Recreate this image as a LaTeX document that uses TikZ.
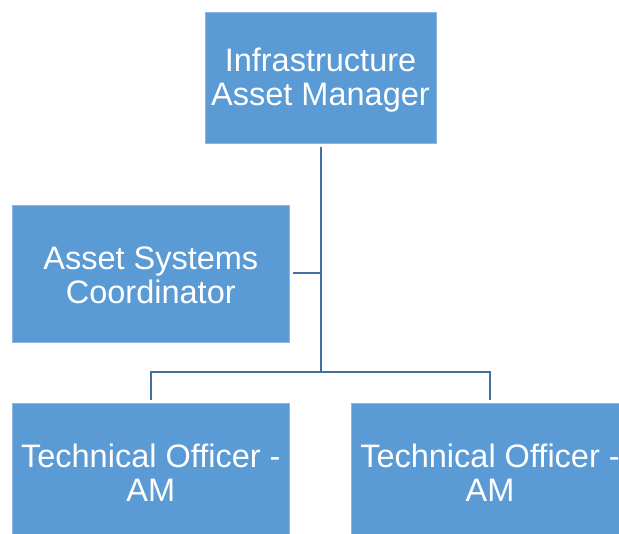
\documentclass[tikz,border=0pt]{standalone}
\usepackage{fontspec}
\setmainfont{Liberation Sans}
\definecolor{boxfill}{HTML}{5B9BD5}
\definecolor{boxline}{HTML}{8DB6E2}
\definecolor{connc}{HTML}{41719C}
\begin{document}
\begin{tikzpicture}[x=1pt,y=-1pt,
  orgbox/.style={rectangle,fill=boxfill,draw=boxline,line width=0.6pt,
    text=white,align=center,inner sep=0pt,text height=61pt,
    font=\fontsize{32.5}{34}\selectfont},
  conn/.style={draw=connc,line width=2pt}]
\clip (0,0) rectangle (619,534);
\fill[white] (0,0) rectangle (619,534);
\node[orgbox,minimum width=231pt,minimum height=131pt,text height=63pt] (top) at (320.5,77.8) {Infrastructure\\Asset Manager};
\node[orgbox,minimum width=277pt,minimum height=137pt] (asc) at (150.8,273.4) {Asset Systems\\Coordinator};
\node[orgbox,minimum width=277pt,minimum height=137pt] (tl) at (150.8,471.5) {Technical Officer -\\AM};
\node[orgbox,minimum width=277pt,minimum height=137pt] (tr) at (490,471.5) {Technical Officer -\\AM};
\coordinate (j1) at (320.5,372.5);
\draw[conn] ([yshift=-3pt]top.south) -- (j1);
\draw[conn] ([xshift=3pt]asc.east) -- (asc.east -| top.south);
\draw[conn] ([yshift=3pt]tl.north) |- (j1) -| ([yshift=3pt]tr.north);
\end{tikzpicture}
\end{document}
